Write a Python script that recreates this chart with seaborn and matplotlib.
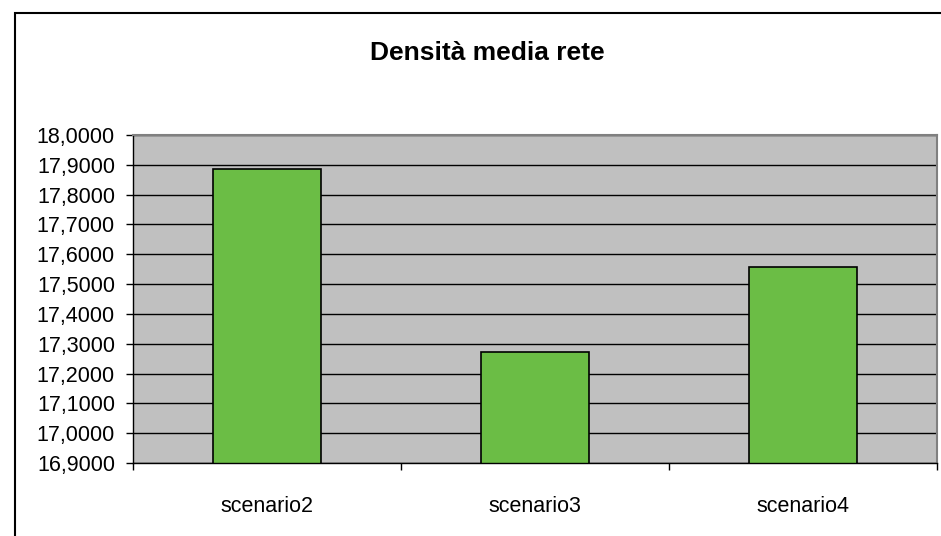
import pandas as pd
import seaborn as sns
import matplotlib.pyplot as plt
from matplotlib.ticker import FuncFormatter, MultipleLocator
from matplotlib.patches import Rectangle

# values
scenarios = ['scenario2', 'scenario3', 'scenario4']
densita = [17.885, 17.273, 17.558]

data = pd.DataFrame({'Scenario': scenarios, 'Densita': densita})

sns.set_style('white')
plt.rcParams['font.family'] = ['Liberation Sans', 'DejaVu Sans']
plt.rcParams['text.color'] = 'black'
plt.rcParams['xtick.color'] = 'black'
plt.rcParams['ytick.color'] = 'black'
plt.rcParams['xtick.labelcolor'] = 'black'
plt.rcParams['ytick.labelcolor'] = 'black'

fig = plt.figure(figsize=(9.41, 5.36), dpi=100)
ax = fig.add_axes([133 / 941, 1 - 463 / 536, 804 / 941, 328 / 536])

sns.barplot(x='Scenario', y='Densita', data=data, color='#6BBD45',
            width=0.4, edgecolor='black', linewidth=1.2, saturation=1, ax=ax)

ax.set_facecolor('#C0C0C0')
ax.set_ylim(16.9, 18.0)
ax.set_xlim(-0.5, 2.5)
ax.yaxis.set_major_locator(MultipleLocator(0.1))
ax.yaxis.set_major_formatter(FuncFormatter(lambda v, p: '{:.4f}'.format(v).replace('.', ',')))
ax.set_axisbelow(True)
ax.grid(axis='y', color='black', linewidth=1)
ax.grid(axis='x', visible=False)

ax.set_xlabel('')
ax.set_ylabel('')
ax.tick_params(axis='y', left=True, length=5, width=1, color='black', direction='out',
               labelsize=15.5, pad=8)
ax.tick_params(axis='x', which='major', length=0, labelsize=15.5, pad=24)
ax.set_xticks([-0.5, 0.5, 1.5, 2.5], minor=True)
ax.tick_params(axis='x', which='minor', bottom=True, length=5, width=1, color='black',
               direction='out')

for side in ['left', 'bottom']:
    ax.spines[side].set_color('black')
    ax.spines[side].set_linewidth(1)
for side in ['top', 'right']:
    ax.spines[side].set_color('#808080')
    ax.spines[side].set_linewidth(1.5)

fig.text(487 / 941, 1 - 53 / 536, 'Densità media rete', ha='center', va='center',
         fontsize=19, fontweight='bold', color='black')

# outer chart frame (cut off at right and bottom like the reference)
fig.patches.append(Rectangle((15 / 941, -0.1), 1.0, 1.1 - 13 / 536, transform=fig.transFigure,
                             fill=False, edgecolor='black', linewidth=1.5))

plt.savefig('out.png', dpi=100)
